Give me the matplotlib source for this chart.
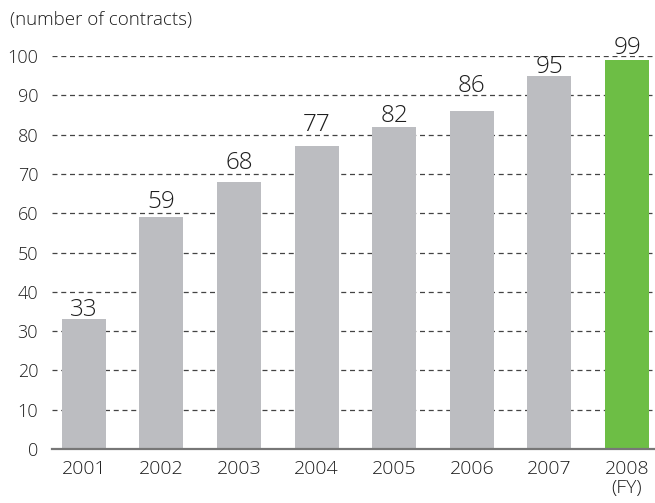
import matplotlib
matplotlib.use("Agg")
from matplotlib import pyplot as plt

# contracts per fiscal year
years = ["2001", "2002", "2003", "2004", "2005", "2006", "2007", "2008\n(FY)"]
contracts = [33, 59, 68, 77, 82, 86, 95, 99]
bar_colors = ["#bcbdc1"] * 7 + ["#6dbe45"]
# how far each value label's baseline sits above its bar
label_lift = [0.9, 2.3, 3.2, 4.0, 1.3, 4.8, 0.8, 1.5]

plt.rcParams['font.family'] = ['Open Sans', 'DejaVu Sans']
plt.rcParams['font.weight'] = 'light'
text_color = "#1e1e1e"

fig = plt.figure(figsize=(6.55, 5.03), dpi=100)
ax = fig.add_axes([52 / 655, 1 - 449 / 503, 1 - 52 / 655, (449 - 56) / 503])

x = list(range(len(years)))
ax.bar(x, contracts, width=0.567, color=bar_colors, zorder=2)

# value labels over each bar
for xi, v, lift in zip(x, contracts, label_lift):
    ax.text(xi, v + lift, str(v), ha="center", va="baseline", fontsize=17.5,
            color=text_color, clip_on=False, zorder=3)

ax.set_xlim(-0.41, 7.36)
ax.set_ylim(0, 100)
ax.set_yticks(range(0, 101, 10))
ax.set_xticks(x)
ax.set_xticklabels(years, fontsize=14, color=text_color, linespacing=1.05)
ax.tick_params(axis="y", labelsize=13, colors=text_color, length=0, pad=10)
ax.tick_params(axis="x", length=0, pad=8)

# dashed gridlines behind the bars
for yv in range(10, 101, 10):
    ax.axhline(yv, color="#444444", linestyle=(0, (4, 3)), linewidth=0.9, zorder=1)

for side in ["top", "right", "left"]:
    ax.spines[side].set_visible(False)
ax.spines["bottom"].set_color("#777777")
ax.spines["bottom"].set_linewidth(1.6)
ax.spines["bottom"].set_zorder(3)

fig.text(10 / 655, 1 - 20 / 503, "(number of contracts)", fontsize=13.5,
         color=text_color, ha="left", va="center")

fig.savefig("out.png", dpi=100)
